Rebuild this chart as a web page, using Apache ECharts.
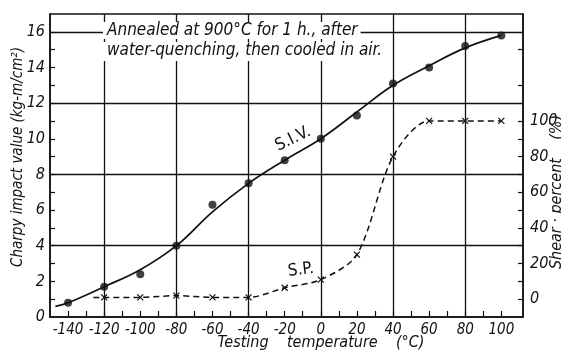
<!DOCTYPE html>
<html><head><meta charset="utf-8">
<script src="https://cdn.jsdelivr.net/npm/echarts@6/dist/echarts.min.js"></script>
<style>html,body{margin:0;padding:0;background:#fff}#c{width:561px;height:351px}</style>
</head><body><div id="c"></div>
<script>
// ---- data ----
const temps = [-140, -120, -100, -80, -60, -40, -20, 0, 20, 40, 60, 80, 100];
const sivValues = [0.8, 1.7, 2.4, 4.0, 6.3, 7.5, 8.8, 10.0, 11.3, 13.1, 14.0, 15.2, 15.8];
const sivCurveTemps = [-147, -140, -120, -100, -80, -60, -40, -20, 0, 20, 40, 60, 80, 100];
const sivCurveValues = [0.6, 0.8, 1.7, 2.65, 4.0, 5.9, 7.5, 8.8, 10.0, 11.5, 13.0, 14.1, 15.1, 15.8];
const spTemps = [-120, -100, -80, -60, -40, -20, 0, 20, 40, 60, 80, 100];
const spValues = [1, 1, 2, 1, 1, 6.4, 11, 25, 80, 100, 100, 100];
const spLineStart = [-126, 1];
const xTickValues = [-140, -130, -120, -110, -100, -90, -80, -70, -60, -50, -40, -30, -20, -10, 0, 10, 20, 30, 40, 50, 60, 70, 80, 90, 100];
const xLabelValues = [-140, -120, -100, -80, -60, -40, -20, 0, 20, 40, 60, 80, 100];
const yTickValues = [1, 2, 3, 4, 5, 6, 7, 8, 9, 10, 11, 12, 13, 14, 15, 16];
const yLabelValues = [0, 2, 4, 6, 8, 10, 12, 14, 16];
const y2TickValues = [0, 10, 20, 30, 40, 50, 60, 70, 80, 90, 100, 120, 140];
const y2LabelValues = [0, 20, 40, 60, 80, 100];
const xGridLines = [-120, -80, -40, 0, 40, 80];
const yGridLines = [4, 8, 12, 16];
const noteLine1 = 'Annealed at 900°C for 1 h., after';
const noteLine2 = 'water-quenching, then cooled in air.';
const xTitle = 'Testing    temperature    (°C)';
const yTitle = 'Charpy impact value (kg-m/cm²)';
const y2Title = 'Shear · percent    (%)';

const INK = '#111';
const FONT = "'Liberation Sans Narrow','DejaVu Sans Condensed','Liberation Sans',sans-serif";
const xMark = 'path://M0,0L10,10M10,0L0,10';

const chart = echarts.init(document.getElementById('c'), null, {renderer: 'canvas'});
const markData = xGridLines.map(v => ({xAxis: v})).concat(yGridLines.map(v => ({yAxis: v})));

chart.setOption({
  animation: false,
  backgroundColor: '#fff',
  grid: {left: 50, right: 38, top: 14, bottom: 34, show: true, borderColor: INK, borderWidth: 1.5, backgroundColor: 'transparent'},
  xAxis: {
    type: 'value', min: -150, max: 112,
    axisLine: {show: true, onZero: false, lineStyle: {color: INK, width: 1.5}},
    splitLine: {show: false},
    axisTick: {inside: true, length: 6, customValues: xTickValues, lineStyle: {color: INK, width: 1.2}},
    axisLabel: {customValues: xLabelValues, margin: 6, color: INK, fontFamily: FONT, fontStyle: 'italic', fontSize: 15,
      formatter: v => (v < 0 ? '-' + Math.abs(v) : String(v))}
  },
  yAxis: [{
    type: 'value', min: 0, max: 17, position: 'left',
    axisLine: {show: true, onZero: false, lineStyle: {color: INK, width: 1.5}},
    splitLine: {show: false},
    axisTick: {show: true, inside: true, length: 5, customValues: yTickValues, lineStyle: {color: INK, width: 1.2}},
    axisLabel: {customValues: yLabelValues, margin: 5, color: INK, fontFamily: FONT, fontStyle: 'italic', fontSize: 16}
  }, {
    type: 'value', min: -10, max: 160, position: 'right',
    axisLine: {show: true, onZero: false, lineStyle: {color: INK, width: 1.5}},
    splitLine: {show: false},
    axisTick: {show: true, inside: true, length: 5, customValues: y2TickValues, lineStyle: {color: INK, width: 1.2}},
    axisLabel: {customValues: y2LabelValues, margin: 7, color: INK, fontFamily: FONT, fontStyle: 'italic', fontSize: 16}
  }],
  series: [{
    type: 'line', name: 'S.I.V. curve', xAxisIndex: 0, yAxisIndex: 0,
    data: sivCurveTemps.map((t, i) => [t, sivCurveValues[i]]),
    smooth: 0.4, showSymbol: false, symbol: 'none', silent: true,
    lineStyle: {color: INK, width: 1.7},
    markLine: {silent: true, symbol: 'none', label: {show: false}, animation: false,
      lineStyle: {color: INK, type: 'solid', width: 1.3}, data: markData}
  }, {
    type: 'scatter', name: 'S.I.V.', yAxisIndex: 0,
    data: temps.map((t, i) => [t, sivValues[i]]),
    symbol: 'circle', symbolSize: 8, itemStyle: {color: INK}, z: 5
  }, {
    type: 'line', name: 'S.P.', yAxisIndex: 1,
    data: [{value: spLineStart, symbol: 'none'}].concat(spTemps.map((t, i) => [t, spValues[i]])),
    smooth: 0.3,
    symbol: xMark, symbolSize: 6, showAllSymbol: true,
    itemStyle: {color: INK, borderColor: INK, borderWidth: 1.2},
    lineStyle: {color: INK, width: 1.5, type: [6, 4]}, z: 4
  }],
  graphic: [
    {type: 'text', left: 103, top: 22, z: 100, style: {text: noteLine1, font: "italic 17px " + FONT, fill: INK, backgroundColor: '#fff', padding: [0, 3, 0, 4]}},
    {type: 'text', left: 103, top: 42, z: 100, style: {text: noteLine2, font: "italic 17px " + FONT, fill: INK, backgroundColor: '#fff', padding: [0, 3, 2, 4]}},
    {type: 'text', x: 293, y: 139, rotation: 0.45, z: 100, style: {text: 'S.I.V.', font: "17px " + FONT, fill: INK, align: 'center', verticalAlign: 'middle'}},
    {type: 'text', x: 301, y: 270, rotation: 0.12, z: 100, style: {text: 'S.P.', font: "17px " + FONT, fill: INK, align: 'center', verticalAlign: 'middle'}},
    {type: 'text', x: 321, y: 343, z: 100, style: {text: xTitle, font: "italic 16px " + FONT, fill: INK, align: 'center', verticalAlign: 'middle'}},
    {type: 'text', x: 18, y: 157, rotation: Math.PI / 2, z: 100, style: {text: yTitle, font: "italic 15px " + FONT, fill: INK, align: 'center', verticalAlign: 'middle'}},
    {type: 'text', x: 557, y: 192, rotation: Math.PI / 2, z: 100, style: {text: y2Title, font: "italic 16px " + FONT, fill: INK, align: 'center', verticalAlign: 'middle'}}
  ]
});
</script>
</body></html>
